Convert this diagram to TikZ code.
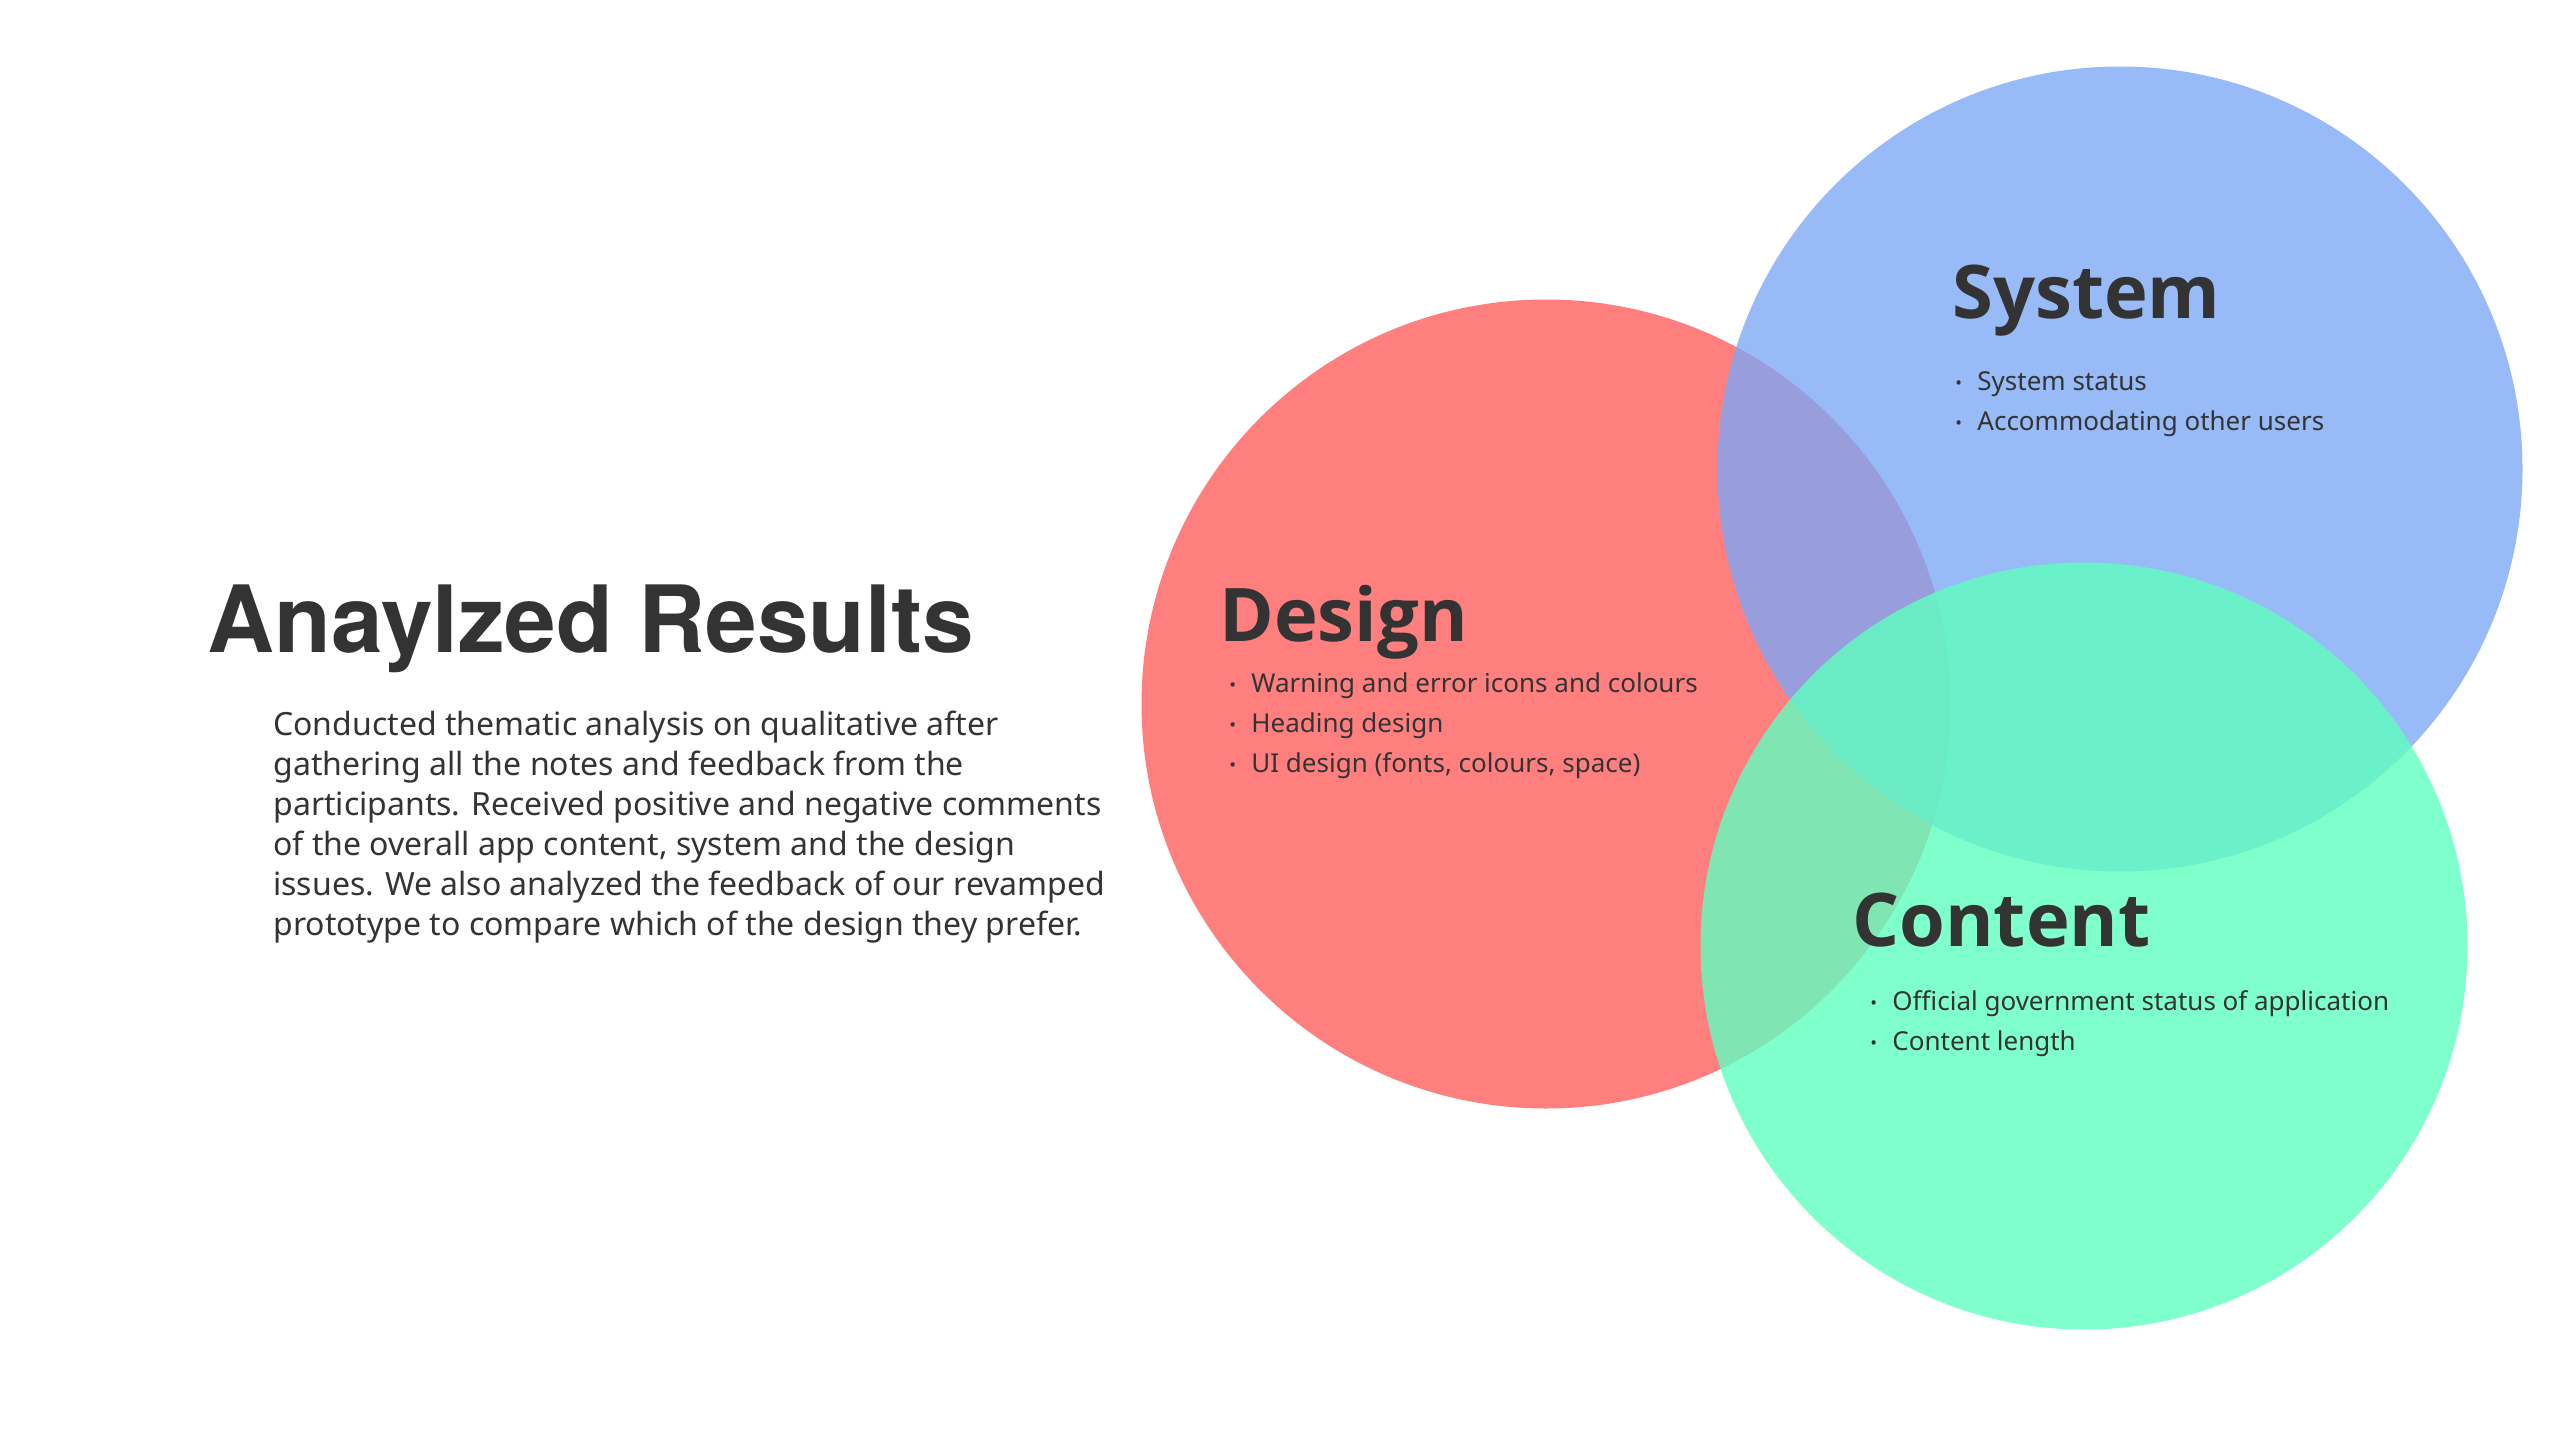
\documentclass[tikz,border=0pt]{standalone}
\usepackage{fontspec}
\setmainfont{Noto Sans}
\newfontfamily\headfont{Open Sans}
\newfontfamily\titlefont{TeX Gyre Heros}
\definecolor{ink}{HTML}{333333}
\definecolor{designfill}{RGB}{255,127,127}
\definecolor{systemfill}{RGB}{124,168,246}
\definecolor{contentfill}{RGB}{96,255,191}
\tikzset{
  blob/.style={circle, inner sep=0pt, draw=none},
  heading/.style={anchor=base west, inner sep=0pt, text=ink, font=\headfont\bfseries\fontsize{37}{43}\selectfont},
  item/.style={anchor=base west, inner sep=0pt, text=ink, font=\fontsize{13}{16}\selectfont},
  para/.style={anchor=base west, inner sep=0pt, text=ink, font=\fontsize{16}{20}\selectfont},
}
\newcommand{\bul}[1]{\makebox[11pt][l]{\raisebox{0.2pt}{\small\textbullet}}#1}
\begin{document}
\begin{tikzpicture}[x=0.5pt,y=-0.5pt]
  \useasboundingbox[fill=white] (0,0) rectangle (2560,1440);

  % three overlapping circles (sizes in pt: half the pixel diameter)
  \node[blob, fill=designfill, minimum size=404.5pt] (design) at (1546,704) {};
  \node[blob, fill=systemfill, fill opacity=0.78, minimum size=402.5pt] (system) at (2120,469) {};
  \node[blob, fill=contentfill, fill opacity=0.8, minimum size=383.5pt] (content) at (2084,946) {};

  % left column
  \node[anchor=base west, inner sep=0pt, text=ink, font=\titlefont\fontsize{46.4}{54}\selectfont\bfseries] (title) at (207,652) {Anaylzed Results};
  \node[para] (p1) at (273,735) {Conducted thematic analysis on qualitative after};
  \node[para] (p2) at (273,775) {gathering all the notes and feedback from the};
  \node[para] (p3) at (273,815) {participants. Received positive and negative comments};
  \node[para] (p4) at (273,855) {of the overall app content, system and the design};
  \node[para] (p5) at (273,895) {issues. We also analyzed the feedback of our revamped};
  \node[para] (p6) at (273,935) {prototype to compare which of the design they prefer.};

  % Design
  \node[heading] (dhead) at (1219,641) {Design};
  \node[item] (d1) at (1229,692) {\bul{Warning and error icons and colours}};
  \node[item] (d2) at (1229,732) {\bul{Heading design}};
  \node[item] (d3) at (1229,772) {\bul{UI design (fonts, colours, space)}};

  % System
  \node[heading] (shead) at (1952,318) {System};
  \node[item] (s1) at (1955,390) {\bul{System status}};
  \node[item] (s2) at (1955,430) {\bul{Accommodating other users}};

  % Content
  \node[heading] (chead) at (1852,946) {Content};
  \node[item] (c1) at (1870,1010) {\bul{Official government status of application}};
  \node[item] (c2) at (1870,1050) {\bul{Content length}};
\end{tikzpicture}
\end{document}
